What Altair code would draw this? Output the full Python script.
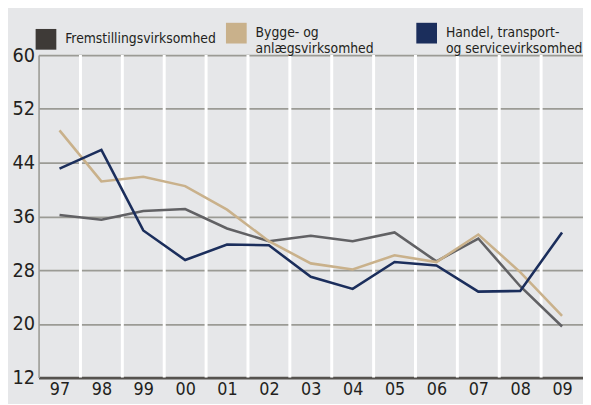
import altair as alt
import pandas as pd

years = ["97", "98", "99", "00", "01", "02", "03", "04", "05", "06", "07", "08", "09"]
series_names = ["Fremstillingsvirksomhed", "Bygge- og|anlægsvirksomhed", "Handel, transport-|og servicevirksomhed"]
fremstilling = [36.2, 35.5, 36.8, 37.1, 34.2, 32.3, 33.1, 32.3, 33.6, 29.3, 32.7, 25.6, 19.6]
bygge = [48.8, 41.2, 41.9, 40.5, 37.0, 32.3, 29.0, 28.1, 30.2, 29.2, 33.3, 27.7, 21.2]
handel = [43.1, 45.9, 33.9, 29.5, 31.8, 31.7, 27.0, 25.2, 29.2, 28.7, 24.8, 24.9, 33.6]
line_colors = ["#616164", "#c9b18b", "#1b2e5c"]
swatch_colors = ["#3e3a37", "#c9b18b", "#1b2e5c"]
y_ticks = [12, 20, 28, 36, 44, 52, 60]

rows = []
for name, vals in zip(series_names, [fremstilling, bygge, handel]):
    for i, (yr, v) in enumerate(zip(years, vals)):
        rows.append({"idx": i, "year": yr, "series": name, "value": v})
df = pd.DataFrame(rows)
bounds = pd.DataFrame({"b": [i + 0.5 for i in range(len(years) - 1)]})

FONT = "DejaVu Sans Condensed"
label_expr = "[" + ",".join(f"'{y}'" for y in years) + "][datum.value]"

xscale = alt.Scale(domain=[-0.5, len(years) - 0.5], nice=False, zero=False)
yscale = alt.Scale(domain=[12, 60], nice=False, zero=False)
xaxis = alt.Axis(
    values=list(range(len(years))), labelExpr=label_expr, title=None,
    grid=False, ticks=False, domain=True, domainColor="#55524e", domainWidth=3,
    labelFont=FONT, labelFontSize=18, labelColor="#231f20", labelPadding=3)
yaxis = alt.Axis(
    values=y_ticks, title=None, grid=True, gridColor="#9b9b95", gridWidth=1.6,
    ticks=False, domain=True, domainColor="#9b9b95", domainWidth=1.6,
    labelFont=FONT, labelFontSize=20, labelColor="#231f20", labelPadding=4)
fill_enc = alt.Fill("series:N", scale=alt.Scale(domain=series_names, range=swatch_colors),
    sort=series_names,
    legend=alt.Legend(title=None, orient="none", legendX=-3, legendY=-33,
        direction="horizontal", columns=3, symbolType="square", symbolSize=441,
        symbolStrokeWidth=0, symbolOpacity=1, labelExpr="split(datum.label, '|')",
        labelFont=FONT, labelFontSize=14, labelColor="#231f20", labelOffset=9,
        gridAlign="all", columnPadding=10, labelLimit=300))
stroke_enc = alt.Stroke("series:N", scale=alt.Scale(domain=series_names, range=line_colors),
    sort=series_names, legend=None)

vlines = alt.Chart(bounds).mark_rule(color="white", strokeWidth=3).encode(
    x=alt.X("b:Q", scale=xscale, axis=xaxis)
)

swatch = alt.Chart(df).mark_square(size=0, opacity=1, filled=True, strokeWidth=0).encode(
    x=alt.X("idx:Q", scale=xscale, axis=xaxis),
    y=alt.Y("value:Q", scale=yscale, axis=yaxis),
    fill=fill_enc,
)

lines = alt.Chart(df).mark_line(strokeWidth=2.6).encode(
    x=alt.X("idx:Q", scale=xscale, axis=xaxis),
    y=alt.Y("value:Q", scale=yscale, axis=yaxis),
    stroke=stroke_enc,
)

chart = alt.layer(vlines, swatch, lines).properties(
    width=552, height=327, background="#e6e7e9",
    padding={"left": 31, "top": 45, "right": 0, "bottom": 24},
    autosize=alt.AutoSizeParams(type="none"),
).configure_view(stroke=None, fill="#e6e7e9")

chart.save("out.html", embed_options={"renderer": "svg", "actions": False})
